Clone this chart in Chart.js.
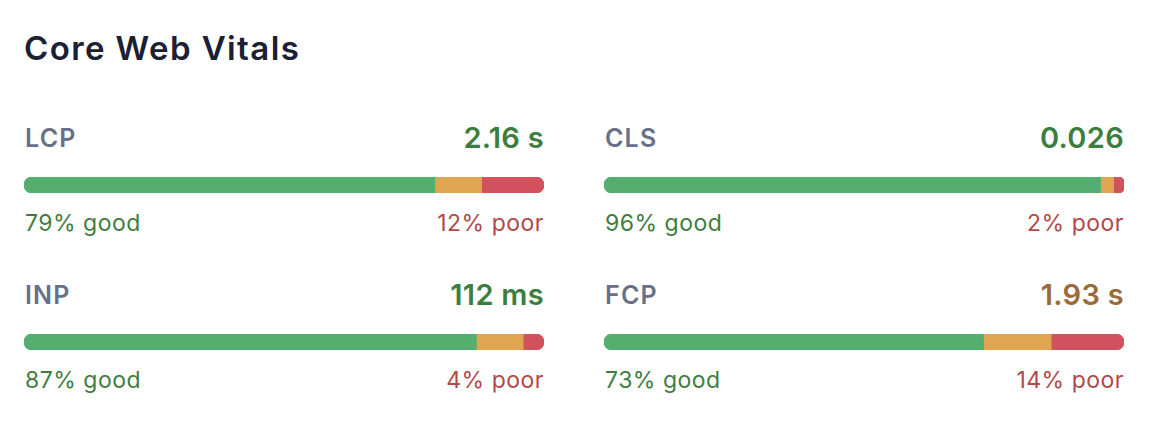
<!DOCTYPE html>
<html>
<head>
<meta charset="utf-8">
<script src="https://cdn.jsdelivr.net/npm/chart.js@4.4.1/dist/chart.umd.min.js"></script>
<style>
  html, body { margin: 0; padding: 0; background: #fff; }
  body { width: 1150px; height: 430px; position: relative; font-family: Inter, "Noto Sans", sans-serif; overflow: hidden; }
  h1 { position: absolute; left: 24px; top: 32px; margin: 0; font-size: 33px; line-height: 1; font-weight: 600; letter-spacing: 1.4px; color: #1b2033; }
  .card { position: absolute; width: 520px; height: 120px; }
  .name { position: absolute; left: 1px; top: 6px; font-size: 25px; line-height: 1; font-weight: 600; letter-spacing: 1.2px; color: #687089; }
  .value { position: absolute; right: 0; top: 3px; font-size: 29px; line-height: 1; font-weight: 600; letter-spacing: 0.3px; }
  .bar { position: absolute; left: 0; top: 57px; width: 520px; height: 16px; }
  .good, .poor { position: absolute; top: 92px; font-size: 23px; line-height: 1; font-weight: 400; letter-spacing: 0.5px; }
  .good { left: 1px; color: #3f7d3f; }
  .poor { right: 0; color: #b04a4a; }
</style>
</head>
<body>
<h1>Core Web Vitals</h1>
<div id="grid"></div>
<script>
// metrics
const metrics = ['LCP', 'CLS', 'INP', 'FCP'];
const values = ['2.16 s', '0.026', '112 ms', '1.93 s'];
const valueColors = ['#3c7e3f', '#3c7e3f', '#3c7e3f', '#9b6a3a'];
const goodShare = [79, 95.5, 87, 73];
const needsShare = [9, 2.5, 9, 13];
const poorShare = [12, 2, 4, 14];

const positions = [[24, 120], [604, 120], [24, 277], [604, 277]];
const grid = document.getElementById('grid');

metrics.forEach((m, i) => {
  const card = document.createElement('div');
  card.className = 'card';
  card.style.left = positions[i][0] + 'px';
  card.style.top = positions[i][1] + 'px';
  card.innerHTML =
    '<div class="name">' + m + '</div>' +
    '<div class="value" style="color:' + valueColors[i] + '">' + values[i] + '</div>' +
    '<div class="bar"><canvas></canvas></div>' +
    '<div class="good">' + Math.round(goodShare[i]) + '% good</div>' +
    '<div class="poor">' + Math.round(poorShare[i]) + '% poor</div>';
  grid.appendChild(card);

  const ctx = card.querySelector('canvas');
  new Chart(ctx, {
    type: 'bar',
    data: {
      labels: [m],
      datasets: [
        { data: [goodShare[i]], backgroundColor: '#53ae6f', borderRadius: { topLeft: 8, bottomLeft: 8 } },
        { data: [needsShare[i]], backgroundColor: '#e0a550', borderRadius: 0 },
        { data: [poorShare[i]], backgroundColor: '#d1525e', borderRadius: { topRight: 8, bottomRight: 8 } }
      ]
    },
    options: {
      indexAxis: 'y',
      responsive: true,
      maintainAspectRatio: false,
      animation: false,
      events: [],
      layout: { padding: 0 },
      datasets: { bar: { barThickness: 16, borderSkipped: false, borderWidth: 0 } },
      plugins: { legend: { display: false }, tooltip: { enabled: false } },
      scales: {
        x: { stacked: true, min: 0, max: 100, display: false },
        y: { stacked: true, display: false }
      }
    }
  });
});
</script>
</body>
</html>
